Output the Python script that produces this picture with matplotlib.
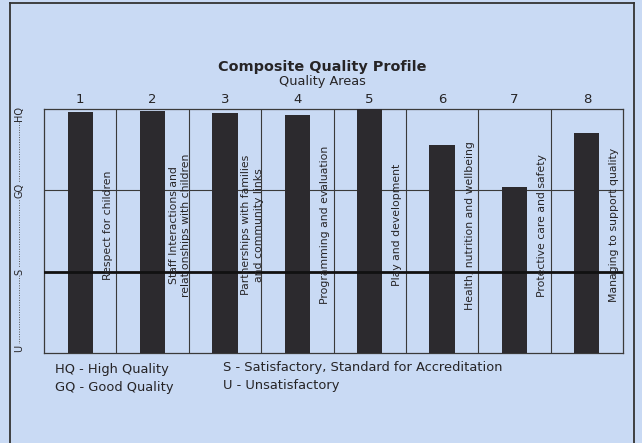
import numpy as np
import matplotlib
matplotlib.use("Agg")
import matplotlib.pyplot as plt
from matplotlib.lines import Line2D
import matplotlib.transforms as mtransforms

area_numbers = ["1", "2", "3", "4", "5", "6", "7", "8"]
area_names = [
    "Respect for children",
    "Staff Interactions and\nrelationships with children",
    "Partnerships with families\nand community links",
    "Programming and evaluation",
    "Play and development",
    "Health, nutrition and wellbeing",
    "Protective care and safety",
    "Managing to support quality",
]
scores = [2.96, 2.98, 2.95, 2.93, 3.0, 2.56, 2.04, 2.71]
level_values = [0, 1, 2, 3]
level_labels = ["U", "S", "GQ", "HQ"]
legend_left = ["HQ - High Quality", "GQ - Good Quality"]
legend_right = ["S - Satisfactory, Standard for Accreditation", "U - Unsatisfactory"]

bg = "#c9daf4"
ink = "#262426"

fig = plt.figure(figsize=(6.42, 4.43), dpi=100, facecolor=bg)
ax = fig.add_axes([44/642, 1-353/443, 579/642, 244/443], facecolor=bg)

x = np.arange(1, len(scores) + 1)
ax.bar(x, scores, width=0.35, color="#2c2a2e", zorder=3)

# grid: column dividers and level lines
for xv in x[:-1] + 0.5:
    ax.axvline(xv, color="#3a3a3a", lw=0.8, zorder=2)
ax.axhline(level_values[2], color="#3a3a3a", lw=0.8, zorder=2)
ax.axhline(level_values[1], color="#111111", lw=2.0, zorder=4)

ax.set_xlim(0.5, len(scores) + 0.5)
ax.set_ylim(level_values[0], level_values[-1])
for s in ax.spines.values():
    s.set_color("#3a3a3a")
    s.set_linewidth(0.9)

ax.xaxis.tick_top()
ax.set_xticks(x)
ax.set_xticklabels(area_numbers, fontsize=9.5, color=ink)
ax.tick_params(axis="x", length=0, pad=2)
ax.set_yticks([])

# labels inside columns
for xi, name in zip(x, area_names):
    ax.text(xi + 0.38, 1.57, name, rotation=90, ha="center", va="center",
            multialignment="center", fontsize=7.8, color=ink, zorder=5,
            linespacing=1.3)

# left quality scale
trans = mtransforms.blended_transform_factory(ax.transAxes, ax.transData)
ax.plot([-0.043, -0.043], [level_values[0] + 0.05, level_values[-1] - 0.05],
        ls=(0, (1, 1.5)), color="#555555", lw=0.7, transform=trans, clip_on=False)
for v, lab in zip(level_values, level_labels):
    yv = min(max(v, 0.06), 2.94)
    ax.text(-0.043, yv, lab, rotation=90, ha="center", va="center", fontsize=7,
            color=ink, transform=trans,
            bbox=dict(facecolor=bg, edgecolor="none", pad=0.5))

fig.text(322/642, 1-67/443, "Composite Quality Profile", ha="center", va="center",
         fontsize=10.4, fontweight="bold", color=ink)
fig.text(322/642, 1-82/443, "Quality Areas", ha="center", va="center",
         fontsize=9.3, color=ink)

for i, t in enumerate(legend_left):
    fig.text(55/642, 1-(370+17*i)/443, t, ha="left", va="center", fontsize=9.4, color=ink)
for i, t in enumerate(legend_right):
    fig.text(223/642, 1-(368+18*i)/443, t, ha="left", va="center", fontsize=9.4, color=ink)

# scanned page border
fig.add_artist(Line2D([10/642, 10/642], [0, 1-3/443], color="#333333", lw=1.3))
fig.add_artist(Line2D([10/642, 634/642], [1-3/443, 1-3/443], color="#333333", lw=1.3))
fig.add_artist(Line2D([634/642, 634/642], [0, 1-3/443], color="#333333", lw=1.3))

fig.savefig("out.png", dpi=100, facecolor=bg)
